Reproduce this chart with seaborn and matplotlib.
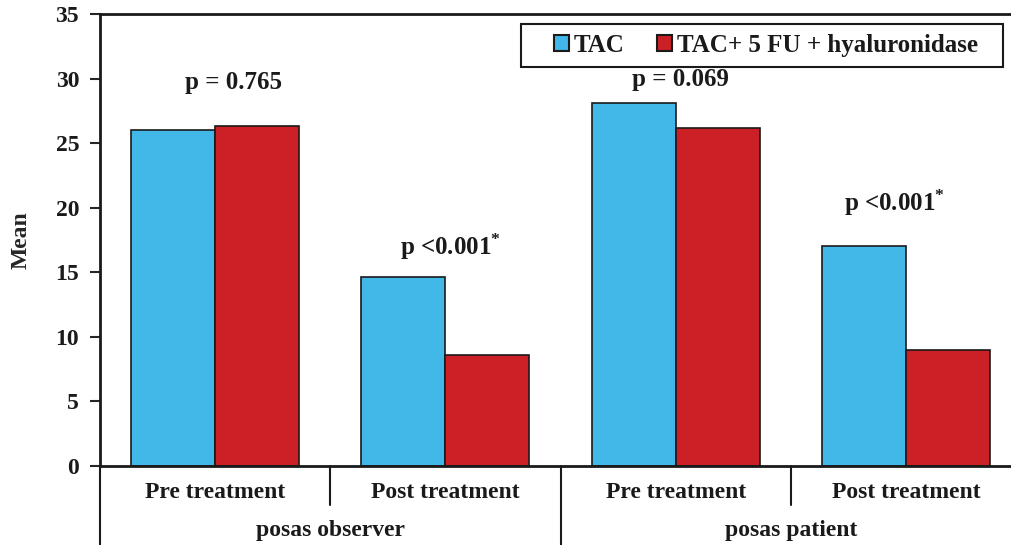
import pandas as pd
import numpy as np
import matplotlib.pyplot as plt
import matplotlib.transforms as mtransforms
from matplotlib.patches import Rectangle
import seaborn as sb

# values
scales = ['posas observer', 'posas observer', 'posas patient', 'posas patient']
times = ['Pre treatment', 'Post treatment', 'Pre treatment', 'Post treatment']
tac = [26.0, 14.6, 28.1, 17.0]
tac_combo = [26.3, 8.6, 26.2, 9.0]
groups = ['TAC', 'TAC+ 5 FU + hyaluronidase']
p_labels = ['p = 0.765', 'p <0.001$^{*}$', 'p = 0.069', 'p <0.001$^{*}$']
p_x = [0.08, 1.02, 2.02, 2.95]
p_y = [29.7, 17.0, 29.9, 20.4]

slots = [f'{s}|{t}' for s, t in zip(scales, times)]
df = pd.DataFrame({
    'slot': slots * 2,
    'Group': [groups[0]] * 4 + [groups[1]] * 4,
    'Mean': tac + tac_combo,
})

sb.set_style('white')
plt.rcParams['font.family'] = ['Liberation Serif', 'DejaVu Serif']
plt.rcParams['font.weight'] = 'bold'
plt.rcParams['mathtext.fontset'] = 'custom'
plt.rcParams['mathtext.rm'] = 'Liberation Serif:bold'
plt.rcParams['text.color'] = '#1a1a1a'

fig = plt.figure(figsize=(10.11, 5.45), dpi=100)
ax = fig.add_axes([100 / 1011, 79 / 545, 921 / 1011, 452 / 545])

sb.barplot(data=df, x='slot', y='Mean', hue='Group', order=slots,
           palette=['#41B8E8', '#CC2027'], width=0.73, edgecolor='#1a1a1a',
           linewidth=1.2, saturation=1, ax=ax)

ax.set_ylim(0, 35)
ax.set_xlim(-0.5, 3.5)
ax.set_yticks(range(0, 36, 5))
ax.tick_params(axis='y', direction='out', length=7, width=1.5, labelsize=17, left=True, pad=8,
               labelcolor='#1a1a1a')
ax.tick_params(axis='x', bottom=False, labelbottom=False)
for lab in ax.get_yticklabels():
    lab.set_fontweight('bold')
ax.set_xlabel('')
ax.set_ylabel('Mean', fontsize=17, fontweight='bold', labelpad=17)

for side in ['left', 'top', 'bottom']:
    ax.spines[side].set_visible(True)
    ax.spines[side].set_color('#1a1a1a')
    ax.spines[side].set_linewidth(2)
ax.spines['right'].set_visible(False)

for x, y, t in zip(p_x, p_y, p_labels):
    ax.text(x, y, t, ha='center', va='center', fontsize=18, fontweight='bold')

# two-level category axis below the plot
trans = mtransforms.blended_transform_factory(ax.transData, ax.transAxes)
for x, low in [(-0.5, -0.175), (0.5, -0.086), (1.5, -0.175), (2.5, -0.086)]:
    ax.plot([x, x], [0, low], color='#1a1a1a', lw=1.5, transform=trans, clip_on=False)
for i, t in enumerate(times):
    ax.text(i, -0.058, t, transform=trans, ha='center', va='center', fontsize=17, fontweight='bold')
for x, s in [(0.5, 'posas observer'), (2.5, 'posas patient')]:
    ax.text(x, -0.142, s, transform=trans, ha='center', va='center', fontsize=17, fontweight='bold')

# legend without its own frame, boxed by a separate rectangle
leg = ax.legend(loc='center', bbox_to_anchor=(666 / 921, 420.5 / 452), ncol=2, frameon=False,
                fontsize=18, handlelength=0.6, handleheight=0.6, handletextpad=0.2,
                columnspacing=1.3, borderaxespad=0)
for t in leg.get_texts():
    t.set_fontweight('bold')
for h in leg.legend_handles:
    h.set_edgecolor('#1a1a1a')
    h.set_linewidth(1.5)
ax.add_patch(Rectangle((421 / 921, 399 / 452), 482 / 921, 43 / 452, transform=ax.transAxes,
                       fill=False, edgecolor='#1a1a1a', lw=1.5, zorder=5))

fig.savefig('out.png', dpi=100)
